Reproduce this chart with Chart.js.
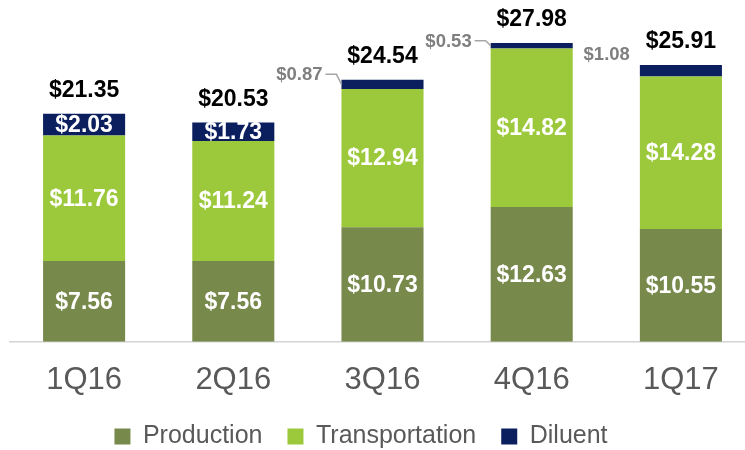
<!DOCTYPE html>
<html>
<head>
<meta charset="utf-8">
<script src="https://cdn.jsdelivr.net/npm/chart.js@4"></script>
<style>
  html, body { margin: 0; padding: 0; overflow: hidden; background: #fff; }
  #wrap { position: absolute; left: 0; top: 0; width: 760px; height: 450px; }
</style>
</head>
<body>
<div id="wrap"><canvas id="costChart"></canvas></div>
<script>
// Quarterly cost per barrel, stacked by component
const quarters = ["1Q16", "2Q16", "3Q16", "4Q16", "1Q17"];
const production = [7.56, 7.56, 10.73, 12.63, 10.55];
const transportation = [11.76, 11.24, 12.94, 14.82, 14.28];
const diluent = [2.03, 1.73, 0.87, 0.53, 1.08];
const totals = [21.35, 20.53, 24.54, 27.98, 25.91];
// diluent values too thin to be labelled inside the bar
const diluentOutside = [false, false, true, true, true];

const fontFamily = '"Liberation Sans", Arial, sans-serif';
Chart.defaults.font.family = fontFamily;

function money(v) {
    return "$" + v.toFixed(2);
}

// where the outside diluent labels sit, relative to the bar
const callouts = {
    2: { gap: 19, dy: -10, leader: true },
    3: { gap: 19, dy: -5, leader: true },
    4: { gap: 10, dy: -17, leader: false }
};

// Values inside the segments, totals on top, small diluent callouts
const valueLabels = {
    id: "valueLabels",
    afterDatasetsDraw(chart) {
        const ctx = chart.ctx;
        ctx.save();
        ctx.textAlign = "center";
        ctx.textBaseline = "middle";
        ctx.font = "bold 23px " + fontFamily;
        ctx.fillStyle = "#fff";
        chart.data.datasets.forEach((ds, di) => {
            chart.getDatasetMeta(di).data.forEach((bar, i) => {
                if (di === 2 && diluentOutside[i]) return;
                ctx.fillText(money(ds.data[i]), bar.x, (bar.y + bar.base) / 2 + 1);
            });
        });

        const topBars = chart.getDatasetMeta(2).data;
        ctx.fillStyle = "#000";
        ctx.textBaseline = "alphabetic";
        topBars.forEach((bar, i) => ctx.fillText(money(totals[i]), bar.x, bar.y - 17));

        ctx.font = "bold 18.5px " + fontFamily;
        ctx.fillStyle = "#7f7f7f";
        ctx.strokeStyle = "#a6a6a6";
        ctx.lineWidth = 1.5;
        ctx.textAlign = "right";
        ctx.textBaseline = "middle";
        topBars.forEach((bar, i) => {
            if (!diluentOutside[i]) return;
            const c = callouts[i];
            const left = bar.x - bar.width / 2;
            const mid = (bar.y + bar.base) / 2;
            const tx = left - c.gap;
            const ty = mid + c.dy;
            ctx.fillText(money(diluent[i]), tx, ty + 1);
            if (c.leader) {
                ctx.beginPath();
                ctx.moveTo(tx + 3, ty);
                ctx.lineTo(left - 5, ty);
                ctx.lineTo(left, mid);
                ctx.stroke();
            }
        });
        ctx.restore();
    }
};

// legend in the picture sits a bit left of the plot centre
const legendShift = {
    id: "legendShift",
    afterLayout(chart) {
        chart.legend.left -= 21.5;
        chart.legend.right -= 21.5;
    }
};

const ctx = document.getElementById("costChart").getContext("2d");
new Chart(ctx, {
    type: "bar",
    data: {
        labels: quarters,
        datasets: [
            { label: "Production", data: production, backgroundColor: "#77894b" },
            { label: "Transportation", data: transportation, backgroundColor: "#9bc93b" },
            { label: "Diluent", data: diluent, backgroundColor: "#0b1f5e" }
        ]
    },
    options: {
        responsive: true,
        maintainAspectRatio: false,
        animation: false,
        devicePixelRatio: 1,
        layout: { padding: { left: 9.5, right: 4.5, top: 0, bottom: -9 } },
        datasets: {
            bar: { categoryPercentage: 1, barPercentage: 0.55, borderWidth: 0 }
        },
        scales: {
            x: {
                stacked: true,
                grid: { display: false, drawTicks: false },
                border: { display: true, color: "#d4d4d4", width: 1.5 },
                ticks: { color: "#595959", padding: 20, font: { size: 31 } },
                // padding is counted twice by the scale, keep only one
                afterFit(scale) { scale.height -= 20; }
            },
            y: { stacked: true, display: false, min: 0, max: 32 }
        },
        plugins: {
            tooltip: { enabled: false },
            legend: {
                position: "bottom",
                labels: {
                    boxWidth: 16,
                    boxHeight: 16,
                    padding: 25,
                    color: "#595959",
                    font: { size: 25 }
                }
            }
        }
    },
    plugins: [valueLabels, legendShift]
});
</script>
</body>
</html>
